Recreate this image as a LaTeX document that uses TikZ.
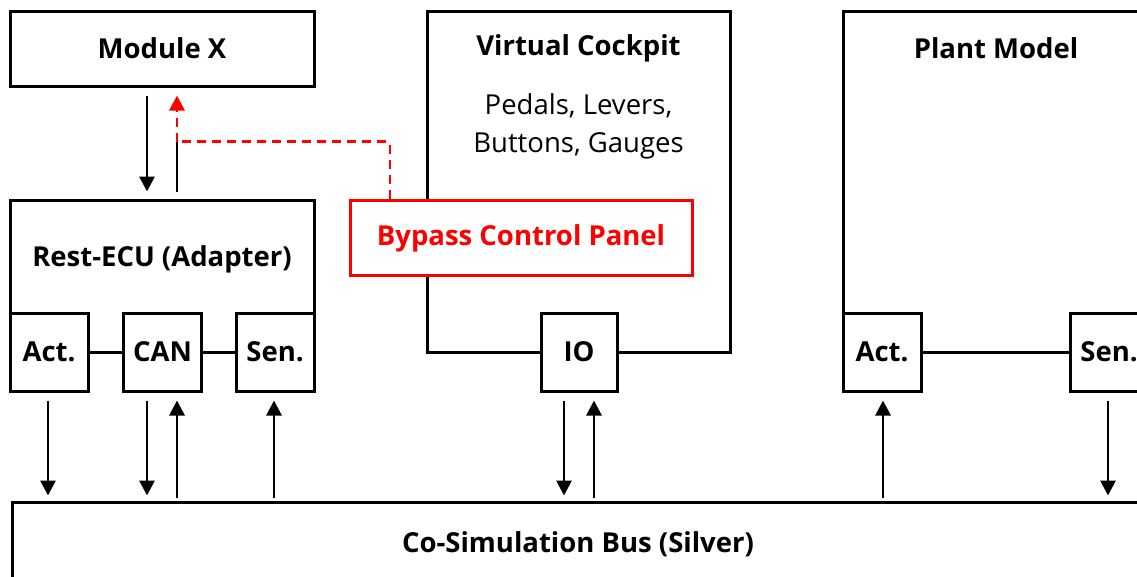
\documentclass[tikz,border=0pt]{standalone}
\usepackage{fontspec}
\setmainfont{Open Sans}
\usetikzlibrary{arrows.meta,calc}
\tikzset{
  box/.style={draw=black,line width=3pt,fill=white,rectangle,inner sep=0pt},
  lbl/.style={font=\fontsize{27.5}{32}\selectfont\bfseries,inner sep=0pt},
  plain/.style={font=\fontsize{27.5}{38}\selectfont,inner sep=0pt,align=center},
  arr/.style={line width=2.8pt,-{Triangle[width=15pt,length=15pt]}},
  wire/.style={line width=3pt},
  redbox/.style={draw=red,line width=3pt,fill=white,rectangle,inner sep=0pt,text=red},
  reddash/.style={draw=red,line width=2.8pt,dash pattern=on 9pt off 6pt},
}
\begin{document}
\begin{tikzpicture}[x=1pt,y=-1pt]
\useasboundingbox (0,0) rectangle (1137,576);
\clip (0,0) rectangle (1137,576);
% Module X
\node[box,minimum width=304pt,minimum height=75pt] (modx) at (162,48.5) {};
\node[lbl] (modxl) at (162,48.5) {Module X};
% Rest-ECU
\node[box,minimum width=304pt,minimum height=152pt] (rest) at (162,276) {};
\node[lbl] (restl) at (162,259) {Rest-ECU (Adapter)};
\node[box,minimum width=78pt,minimum height=78pt] (act1) at (49,352) {};
\node[lbl] at (act1) {Act.};
\node[box,minimum width=78pt,minimum height=78pt] (can) at (162.5,352) {};
\node[lbl] at (can) {CAN};
\node[box,minimum width=78pt,minimum height=78pt] (sen1) at (275,352) {};
\node[lbl] at (sen1) {Sen.};
\draw[wire] (act1.east) -- (can.west);
\draw[wire] (can.east) -- (sen1.west);
% Virtual Cockpit
\node[box,minimum width=303pt,minimum height=341pt] (vc) at (578.5,181.5) {};
\node[lbl] (vcl) at (578.5,48) {Virtual Cockpit};
\node[plain] (vct) at (578.5,126) {Pedals, Levers,\\Buttons, Gauges};
\node[box,minimum width=76pt,minimum height=78pt] (io) at (579,352) {};
\node[lbl] at (io) {IO};
% Plant Model
\node[box,minimum width=306pt,minimum height=341pt] (plant) at (996,181.5) {};
\node[lbl] (plantl) at (996,48) {Plant Model};
\node[box,minimum width=78pt,minimum height=78pt] (act2) at (882,352) {};
\node[lbl] at (act2) {Act.};
\node[box,minimum width=78pt,minimum height=78pt] (sen2) at (1109,352) {};
\node[lbl] at (sen2) {Sen.};
\draw[wire] (act2.east) -- (sen2.west);
% Bypass
\node[redbox,minimum width=342pt,minimum height=75pt] (bypass) at (521,237.5) {};
\node[lbl,text=red] (bypassl) at (521,238) {Bypass Control Panel};
% Bus
\node[box,minimum width=1160pt,minimum height=120pt] (bus) at (592,562) {};
\node[lbl] (busl) at (578,544) {Co-Simulation Bus (Silver)};
% Module X <-> Rest-ECU
\draw[arr] ($(modx.south)+(-15,8)$) -- ($(rest.north)+(-15,-7)$);
\coordinate (j) at ($(rest.north)+(15,-57)$);
\draw[wire,line width=2.8pt] ($(rest.north)+(15,-7)$) -- (j);
\draw[reddash,rounded corners=3pt] ($(bypass.north)+(-131,0)$) |- (j);
\draw[reddash,-{Triangle[width=15pt,length=15pt]},red] (j) -- ($(modx.south)+(15,8)$);
% bus arrows
\draw[arr] ($(act1.south)+(-1,8)$) -- ($(act1.south)+(-1,103)$);
\draw[arr] ($(can.south)+(-15.5,8)$) -- ($(can.south)+(-15.5,103)$);
\draw[arr] ($(can.south)+(14.5,105)$) -- ($(can.south)+(14.5,8)$);
\draw[arr] ($(sen1.south)+(-1,105)$) -- ($(sen1.south)+(-1,8)$);
\draw[arr] ($(io.south)+(-15,8)$) -- ($(io.south)+(-15,103)$);
\draw[arr] ($(io.south)+(15,105)$) -- ($(io.south)+(15,8)$);
\draw[arr] ($(act2.south)+(1,105)$) -- ($(act2.south)+(1,8)$);
\draw[arr] ($(sen2.south)+(-1,8)$) -- ($(sen2.south)+(-1,103)$);
\end{tikzpicture}
\end{document}
